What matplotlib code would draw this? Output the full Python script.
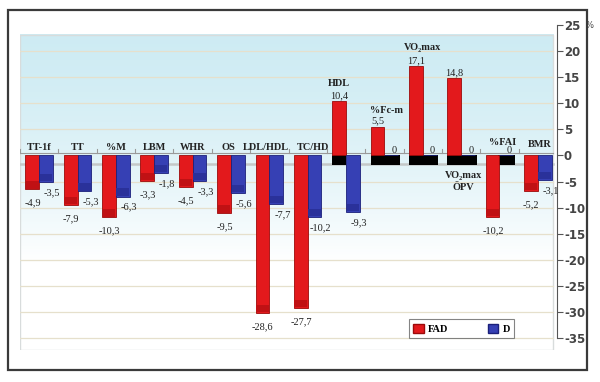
import matplotlib

matplotlib.use("Agg")
import matplotlib.pyplot as plt
import numpy as np
from matplotlib.patches import Rectangle

CATEGORIES = ["TT-1f", "TT", "%M", "LBM", "WHR", "OS", "LDL/HDL", "TC/HD",
              "HDL", "%Fc-m", "VO\u2082max", "VO\u2082max\nÖPV", "%FAI", "BMR"]
FAD = [-4.9, -7.9, -10.3, -3.3, -4.5, -9.5, -28.6, -27.7, 10.4, 5.5, 17.1, 14.8, -10.2, -5.2]
D = [-3.5, -5.3, -6.3, -1.8, -3.3, -5.6, -7.7, -10.2, -9.3, 0, 0, 0, 0, -3.1]
Y_TICKS = [25, 20, 15, 10, 5, 0, -5, -10, -15, -20, -25, -30, -35]

RED, RED_EDGE, RED_DARK = "#e3191c", "#9c0a0a", "#c01114"
BLUE, BLUE_EDGE, BLUE_DARK = "#3640b4", "#1b207a", "#2a319a"
SERIF = ["Liberation Serif", "DejaVu Serif"]
DEPTH = 1.6  # fake 3D bottom face


def fmt(v):
    return f"{v:g}".replace(".", ",")


fig = plt.figure(figsize=(6, 3.82), dpi=100)
# outer frame
fig.patches.append(Rectangle((8 / 600, 12 / 382), 579 / 600, 360 / 382,
                             transform=fig.transFigure, fill=False,
                             edgecolor="#3a3a3a", linewidth=1.6))

ax = fig.add_axes([20 / 600, 32 / 382, 537 / 600, 325 / 382])
ymin, ymax = -37.3, 25
ax.set_xlim(-0.5, 13.5)
ax.set_ylim(ymin, ymax)

# plot-area background: pale blue fading to white
grad = np.linspace(0, 1, 256)[:, None]
top = np.array([0.81, 0.925, 0.955])
fade = np.clip(grad / 0.72, 0, 1) ** 1.6
rgb = top + (1 - top) * fade[..., None]
ax.imshow(rgb, extent=[-0.5, 13.4, ymin, 23.1], aspect="auto", origin="upper", zorder=0)
ax.add_patch(Rectangle((-0.5, ymin), 13.9, 23.1 - ymin, fill=False,
                       edgecolor="#d8dcdc", linewidth=1.0, zorder=1))
for t in range(-35, 25, 5):
    if t != 0:
        ax.plot([-0.5, 13.4], [t, t], color="#e6e0cc", linewidth=0.9, zorder=1)

# category axis with boundary ticks, plus the floor edge
ax.plot([-0.5, 13.4], [0.55, 0.55], color="#9a9a9a", linewidth=0.8, zorder=2)
for b in np.arange(-0.5, 13.5, 1):
    ax.plot([b, b], [0.55, 1.3], color="#9a9a9a", linewidth=0.8, zorder=2)
ax.plot([-0.5, 13.4], [-1.7, -1.7], color="#c4c8c8", linewidth=1.8, zorder=2)

x = np.arange(len(CATEGORIES))
w = 0.36
fad_draw = [f - DEPTH if f < 0 else f for f in FAD]
d_draw = [d - DEPTH if d < 0 else d for d in D]
ax.bar(x - 0.18, fad_draw, width=w, color=RED, edgecolor=RED_EDGE, linewidth=0.6, zorder=4)
ax.bar(x + 0.18, d_draw, width=w, color=BLUE, edgecolor=BLUE_EDGE, linewidth=0.6, zorder=4)

# darker bottom faces on negative bars, black floor blocks for the rest
for i, (f, d) in enumerate(zip(FAD, D)):
    if f < 0:
        ax.bar(i - 0.18, -DEPTH + 0.15, bottom=f, width=w - 0.03, color=RED_DARK,
               linewidth=0, zorder=5)
    else:
        ax.bar(i - 0.18, -1.8, width=w, color="black", zorder=3)
    if d < 0:
        ax.bar(i + 0.18, -DEPTH + 0.15, bottom=d, width=w - 0.03, color=BLUE_DARK,
               linewidth=0, zorder=5)
    else:
        ax.bar(i + 0.18, -1.8, width=w + 0.1, color="black", zorder=3)

lab = dict(fontsize=7.5, family=SERIF, color="#222222", zorder=6)
for i, (f, d) in enumerate(zip(FAD, D)):
    if f > 0:
        ax.text(i - 0.18, f + 0.2, fmt(f), ha="center", va="bottom", **lab)
    else:
        ax.text(i - 0.17, f - 4.2, fmt(f), ha="center", va="center", **lab)
    if d == 0:
        ax.text(i + 0.25, 1.0, "0", ha="center", va="center", **lab)
    else:
        ax.text(i + 0.34, d - 3.6, fmt(d), ha="center", va="center", **lab)

cat = dict(fontsize=7.4, family=SERIF, fontweight="bold", color="#222222", zorder=6)
special = {"OS": (-0.06, 1.5), "LDL/HDL": (-0.08, 1.5), "TC/HD": (0.14, 1.5),
           "HDL": (-0.18, 13.8), "%Fc-m": (0.05, 8.6), "VO\u2082max": (0.0, 20.7),
           "VO\u2082max\nÖPV": (0.05, -5.0), "%FAI": (0.08, 2.5), "BMR": (0.05, 2.0)}
for i, name in enumerate(CATEGORIES):
    dx, y = special.get(name, (0.0, 1.5))
    ax.text(i + dx, y, name, ha="center", va="center", linespacing=1.3, **cat)

# right value axis
for s in ["top", "left", "bottom"]:
    ax.spines[s].set_visible(False)
ax.spines["right"].set_bounds(-35, 25)
ax.spines["right"].set_color("#555555")
ax.yaxis.tick_right()
ax.set_yticks(Y_TICKS)
ax.set_yticklabels([str(t) for t in Y_TICKS], fontsize=8.5, fontweight="bold", color="#444444")
ax.tick_params(axis="y", direction="out", length=4, color="#555555", pad=1)
ax.set_xticks([])
ax.text(13.5 + 0.74, 25, "%", fontsize=6, color="#444444", va="center", clip_on=False)

# legend box
leg = ax.legend(handles=[Rectangle((0, 0), 1, 1, color=RED, ec=RED_EDGE),
                         Rectangle((0, 0), 1, 1, color=BLUE, ec=BLUE_EDGE)],
                labels=["FAD", "D"], ncol=2, loc="lower left",
                bbox_to_anchor=(389 / 537, 12 / 325, 105 / 537, 25 / 325), mode="expand",
                prop={"family": SERIF, "weight": "bold", "size": 7.5},
                frameon=True, fancybox=False, edgecolor="#666666",
                handlelength=1.0, handleheight=1.0, handletextpad=0.4, columnspacing=2.0,
                borderaxespad=0)
leg.get_frame().set_linewidth(0.8)
leg.set_zorder(7)

fig.savefig("out.png", dpi=100)
